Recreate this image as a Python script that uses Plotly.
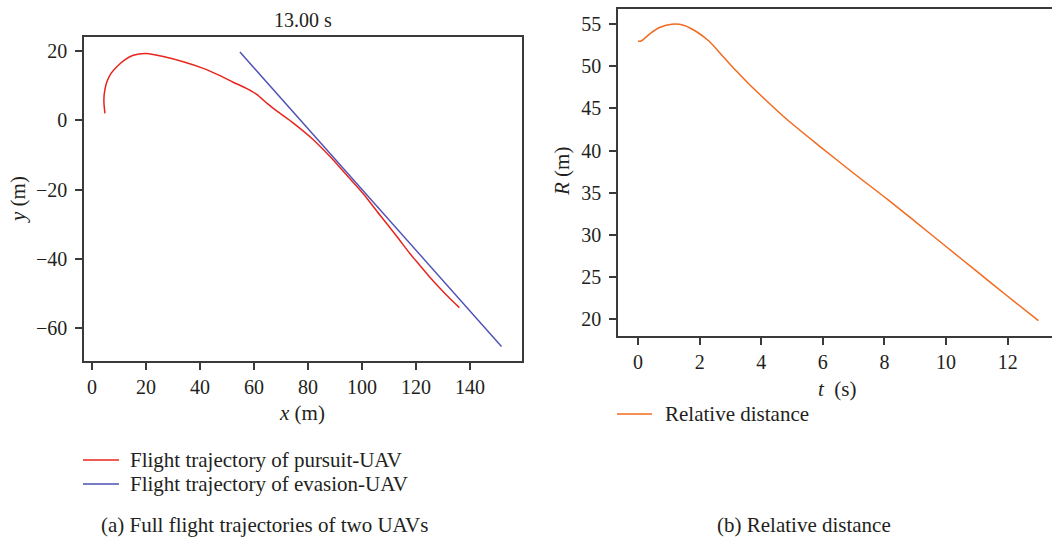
import plotly.graph_objects as go

# ---- data ----
pursuit_x = [4.8, 4.4, 4.8, 5.6, 7.0, 9.1, 12.0, 15.3, 20.2, 26.4, 33.8, 41.2, 47.4, 52.3,
             57.0, 61.0, 65.0, 68.4, 74.6, 82.0, 88.1, 94.0, 100.5, 106.5, 112.8, 118.0,
             121.5, 125.5, 128.9, 132.5, 136.1]
pursuit_y = [2.0, 5.8, 9.0, 11.3, 13.5, 15.4, 17.4, 18.8, 19.3, 18.4, 16.9, 15.0, 12.9, 11.0,
             9.3, 7.5, 4.8, 2.7, -0.8, -5.6, -10.4, -15.5, -21.2, -27.2, -33.4, -38.7,
             -41.9, -45.6, -48.5, -51.4, -54.1]

evasion_x = [54.8, 98.6, 151.7]
evasion_y = [19.7, -18.8, -65.3]

time_s = [0, 0.1, 0.4, 0.7, 1.1, 1.5, 1.9, 2.3, 2.8, 3.2, 3.6, 4.0, 4.8, 5.9, 7.0,
          8.1, 9.0, 10.0, 11.0, 12.0, 13.0]
rel_dist = [53.0, 53.0, 53.9, 54.6, 55.0, 54.85, 54.1, 53.0, 51.0, 49.4, 47.9, 46.5,
            43.8, 40.5, 37.3, 34.2, 31.55, 28.6, 25.65, 22.7, 19.8]

x_ticks_a = [0, 20, 40, 60, 80, 100, 120, 140]
y_ticks_a = [20, 0, -20, -40, -60]
x_ticks_b = [0, 2, 4, 6, 8, 10, 12]
y_ticks_b = [20, 25, 30, 35, 40, 45, 50, 55]

# ---- style ----
W, H = 1052, 539
FONT = "Liberation Serif"
TXT = "#231f20"
AX = "#3a3a3a"
RED = "#e8251d"
BLUE = "#4b50b4"
ORANGE = "#f26a1f"


def px(x):
    return x / W


def py(y):
    return 1 - y / H


fig = go.Figure()

fig.add_trace(go.Scatter(x=pursuit_x, y=pursuit_y, mode="lines",
                         line=dict(color=RED, width=1.5, shape="spline", smoothing=0.8),
                         xaxis="x", yaxis="y", showlegend=False))
fig.add_trace(go.Scatter(x=evasion_x, y=evasion_y, mode="lines",
                         line=dict(color=BLUE, width=1.4),
                         xaxis="x", yaxis="y", showlegend=False))
fig.add_trace(go.Scatter(x=time_s, y=rel_dist, mode="lines",
                         line=dict(color=ORANGE, width=1.5, shape="spline", smoothing=0.8),
                         xaxis="x2", yaxis="y2", showlegend=False))

axis_common = dict(showgrid=False, zeroline=False, showline=True, linecolor=AX,
                   linewidth=1.6, ticks="outside", ticklen=7, tickwidth=1.5,
                   tickcolor=AX, tickfont=dict(family=FONT, size=20, color=TXT))

fig.update_layout(
    width=W, height=H,
    margin=dict(l=0, r=0, t=0, b=0),
    paper_bgcolor="white", plot_bgcolor="white",
    xaxis=dict(domain=[px(84), px(522)], range=[-2.96, 159.3], tickvals=x_ticks_a,
               mirror=True, anchor="y", ticklabelstandoff=0, **axis_common),
    yaxis=dict(domain=[py(361), py(37)], range=[-69.5, 24.05], tickvals=y_ticks_a,
               mirror=True, anchor="x", ticklabelstandoff=4, **axis_common),
    xaxis2=dict(domain=[px(618), 1.0], range=[-0.65, 13.44], tickvals=x_ticks_b,
                mirror=True, anchor="y2", ticklabelstandoff=0, **axis_common),
    yaxis2=dict(domain=[py(336), py(9)], range=[17.98, 56.8], tickvals=y_ticks_b,
                anchor="x2", ticklabelstandoff=4, **axis_common),
)

annotations = [
    dict(text="13.00 s", x=px(303), y=py(20), size=20),
    dict(text="<i>x</i> (m)", x=px(302), y=py(413), size=21),
    dict(text="<i>y</i> (m)", x=px(18), y=py(200), size=21, angle=-90),
    dict(text="<i>t</i>  (s)", x=px(837), y=py(389), size=21),
    dict(text="<i>R</i> (m)", x=px(562), y=py(172), size=21, angle=-90),
    dict(text="(a) Full flight trajectories of two UAVs", x=px(264), y=py(525), size=21),
    dict(text="(b) Relative distance", x=px(804), y=py(525), size=21),
]
for a in annotations:
    fig.add_annotation(text=a["text"], x=a["x"], y=a["y"], xref="paper", yref="paper",
                       showarrow=False, xanchor="center", yanchor="middle",
                       textangle=a.get("angle", 0),
                       font=dict(family=FONT, size=a["size"], color=TXT))

# legend entries: sample line + label
legend_items = [
    (83, 119, 460, RED, "Flight trajectory of pursuit-UAV", 128),
    (83, 119, 484, BLUE, "Flight trajectory of evasion-UAV", 128),
    (617, 652, 414, ORANGE, "Relative distance", 663),
]
for x0, x1, yy, col, label, tx in legend_items:
    fig.add_shape(type="line", xref="paper", yref="paper", x0=px(x0), x1=px(x1),
                  y0=py(yy), y1=py(yy), line=dict(color=col, width=1.5))
    fig.add_annotation(text=label, x=px(tx), y=py(yy), xref="paper", yref="paper",
                       showarrow=False, xanchor="left", yanchor="middle",
                       font=dict(family=FONT, size=21, color=TXT))

fig.write_html("out.html")
